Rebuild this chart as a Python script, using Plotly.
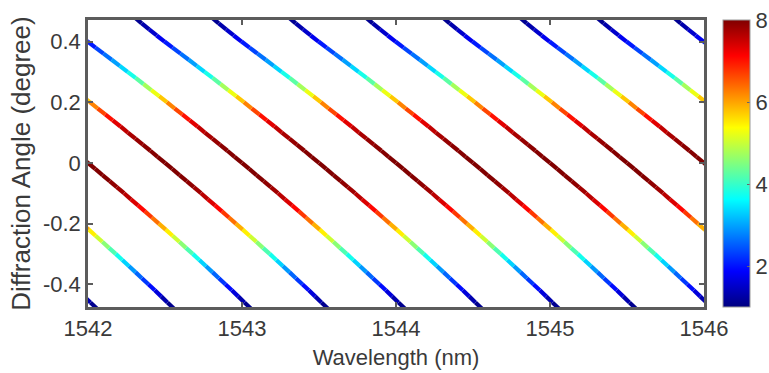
import plotly.graph_objects as go
from plotly.colors import sample_colorscale

# ---------------- data ----------------
# wavelength (nm) at which each diffraction line crosses 0 degree
line_centers_nm = [1541.0, 1541.5, 1542.0, 1542.5, 1543.0, 1543.5, 1544.0,
                   1544.5, 1545.0, 1545.5, 1546.0, 1546.5, 1547.0]

# sampled diffraction angles (degree)
angle_deg = [-0.48, -0.46, -0.44, -0.42, -0.40, -0.38, -0.36, -0.34, -0.32, -0.30,
             -0.28, -0.26, -0.24, -0.22, -0.20, -0.18, -0.16, -0.14, -0.12, -0.10,
             -0.08, -0.06, -0.04, -0.02, 0.00, 0.02, 0.04, 0.06, 0.08, 0.10,
             0.12, 0.14, 0.16, 0.18, 0.20, 0.22, 0.24, 0.26, 0.28, 0.30,
             0.32, 0.34, 0.36, 0.38, 0.40, 0.42, 0.44, 0.46, 0.48]

# wavelength offset (nm) of a line from its 0-degree crossing, at each angle
offset_nm = [1.057, 1.016, 0.975, 0.934, 0.892, 0.850, 0.808, 0.765, 0.723, 0.680,
             0.636, 0.593, 0.549, 0.505, 0.460, 0.415, 0.370, 0.325, 0.279, 0.234,
             0.187, 0.141, 0.094, 0.047, 0.000, -0.048, -0.095, -0.144, -0.192, -0.241,
             -0.289, -0.339, -0.388, -0.438, -0.488, -0.538, -0.589, -0.640, -0.691, -0.743,
             -0.794, -0.846, -0.899, -0.951, -1.003, -1.054, -1.103, -1.151, -1.198]

# colour value (intensity) at each angle
intensity = [1.00, 1.20, 1.45, 1.80, 2.10, 2.40, 2.75, 3.10, 3.55, 3.95,
             4.35, 4.80, 5.25, 5.70, 6.15, 6.55, 6.95, 7.25, 7.50, 7.70,
             7.85, 7.95, 8.00, 8.00, 8.00, 8.00, 7.95, 7.90, 7.80, 7.65,
             7.45, 7.20, 6.85, 6.45, 6.00, 5.50, 5.00, 4.50, 4.00, 3.55,
             3.15, 2.80, 2.50, 2.20, 1.90, 1.65, 1.40, 1.20, 1.05]

x_ticks = [1542, 1543, 1544, 1545, 1546]
y_ticks = [-0.4, -0.2, 0, 0.2, 0.4]
y_tick_text = ["-0.4", "-0.2", "0", "0.2", "0.4"]
cbar_ticks = [2, 4, 6, 8]
cmin, cmax = 1, 8

# ---------------- styling ----------------
JET = [[0.0, "rgb(0,0,128)"], [0.125, "rgb(0,0,255)"], [0.375, "rgb(0,255,255)"],
       [0.625, "rgb(255,255,0)"], [0.875, "rgb(255,0,0)"], [1.0, "rgb(128,0,0)"]]
FONT = "Liberation Sans, Arial, sans-serif"
TXT = "#3a3a3a"
AX = "#5c5c5c"

fig = go.Figure()

for k in range(len(angle_deg) - 1):
    xs, ys = [], []
    for c in line_centers_nm:
        xs += [c + offset_nm[k], c + offset_nm[k + 1], None]
        ys += [angle_deg[k], angle_deg[k + 1], None]
    v = 0.5 * (intensity[k] + intensity[k + 1])
    col = sample_colorscale(JET, [(v - cmin) / (cmax - cmin)])[0]
    fig.add_trace(go.Scatter(x=xs, y=ys, mode="lines",
                             line=dict(color=col, width=4.2),
                             hoverinfo="skip", showlegend=False))

# colour bar carrier (invisible marker)
fig.add_trace(go.Scatter(
    x=[1544], y=[0], mode="markers", hoverinfo="skip", showlegend=False,
    opacity=0,
    marker=dict(size=1, color=[cmin], cmin=cmin, cmax=cmax, colorscale=JET,
                showscale=True,
                colorbar=dict(thickness=27, thicknessmode="pixels",
                              len=1, lenmode="fraction",
                              x=1.031, xanchor="left", y=0.5, yanchor="middle",
                              xpad=0, ypad=0,
                              outlinewidth=1, outlinecolor="#9a9a9a",
                              tickvals=cbar_ticks, ticks="inside", ticklen=3,
                              tickcolor="#666",
                              tickfont=dict(family=FONT, size=22, color=TXT)))))

fig.update_layout(
    width=769, height=373,
    margin=dict(l=88, r=65, t=20, b=66, autoexpand=False),
    paper_bgcolor="white", plot_bgcolor="white",
    font=dict(family=FONT, color=TXT),
)
fig.update_xaxes(range=[1542, 1546], tickvals=x_ticks,
                 ticks="inside", ticklen=5, tickwidth=1.5, tickcolor=AX,
                 showline=True, linecolor=AX, linewidth=2.5, mirror="ticks",
                 showgrid=False, zeroline=False,
                 tickfont=dict(size=22, color=TXT),
                 title=dict(text="Wavelength (nm)", font=dict(size=22, color=TXT), standoff=10))
fig.update_yaxes(range=[-0.475, 0.471], tickvals=y_ticks, ticktext=y_tick_text,
                 ticks="inside", ticklen=5, tickwidth=1.5, tickcolor=AX,
                 showline=True, linecolor=AX, linewidth=2.5, mirror="ticks",
                 showgrid=False, zeroline=False,
                 tickfont=dict(size=22, color=TXT),
                 title=dict(text="Diffraction Angle (degree)", font=dict(size=26, color=TXT), standoff=5))

fig.write_html("out.html")
